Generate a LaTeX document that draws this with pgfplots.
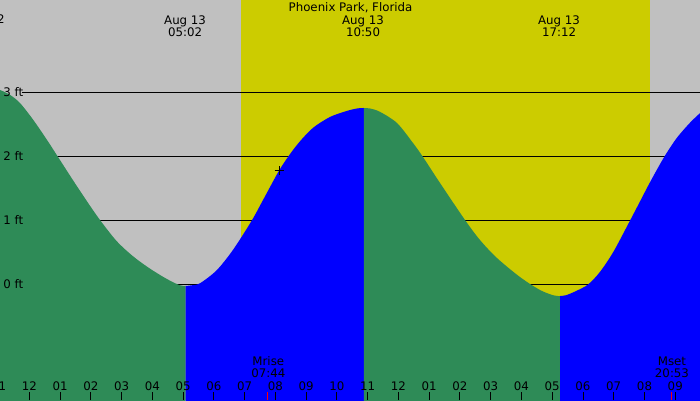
\documentclass[border=0pt]{standalone}
\usepackage{pgfplots}
\pgfplotsset{compat=1.18}
\usepackage{fontspec}
\setmainfont{DejaVu Sans}
\definecolor{bggray}{HTML}{C0C0C0}
\definecolor{sunyel}{HTML}{CCCC00}
\definecolor{tgreen}{HTML}{2E8B57}
\definecolor{tblue}{HTML}{0000FF}
\newcommand\tf{\fontsize{5.9}{6}\selectfont}
\begin{document}
\begin{tikzpicture}
\begin{axis}[
  width=350pt, height=200pt, scale only axis,
  xmin=-0.959, xmax=21.805, ymin=-1.8125, ymax=4.4375,
  axis on top,
  axis line style={draw=none},
  axis background/.style={fill=bggray},
  ytick=\empty,
  xtick={-1,0,...,21},
  xticklabels={11,12,01,02,03,04,05,06,07,08,09,10,11,12,01,02,03,04,05,06,07,08,09},
  xtick pos=bottom,
  tick align=inside,
  major tick length=4pt,
  xtick style={black, line width=0.5pt},
  xticklabel style={anchor=base, yshift=5pt, font=\tf},
  /pgf/number format/assume math mode=true,
  extra x ticks={0},
  extra x tick labels={},
  extra x tick style={major tick style={black, line width=1.5pt}},
  clip=true,
]
% daylight band
\fill[sunyel] (axis cs:6.878,-1.8125) rectangle (axis cs:20.179,4.4375);
% height lines
\draw[black, line width=0.5pt] (axis cs:-0.244,3) -- (axis cs:21.9,3);
\draw[black, line width=0.5pt] (axis cs:-0.244,2) -- (axis cs:21.9,2);
\draw[black, line width=0.5pt] (axis cs:-0.244,1) -- (axis cs:21.9,1);
\draw[black, line width=0.5pt] (axis cs:-0.244,0) -- (axis cs:21.9,0);
% falling tide 1
\addplot[fill=tgreen, draw=none, smooth] coordinates {
 (-1.2,3.05) (-0.959,3.031) (-0.634,2.955) (-0.309,2.828) (0.114,2.570) (0.569,2.252)
 (0.894,2.010) (1.415,1.622) (1.870,1.292) (2.293,1.000) (2.836,0.670)
 (3.376,0.430) (3.919,0.240) (4.462,0.080) (4.88,-0.018) (5.08,-0.03)
} -- (axis cs:5.08,-3) -- (axis cs:-1.2,-3) -- cycle;
% rising tide 1
\addplot[fill=tblue, draw=none, smooth] coordinates {
 (5.08,-0.03) (5.28,-0.02) (5.545,0.012) (6.088,0.215) (6.628,0.54) (7.226,0.99)
 (7.603,1.32) (8.114,1.77) (8.472,2.03) (8.797,2.23) (9.220,2.44)
 (9.772,2.61) (10.325,2.705) (10.68,2.745) (10.878,2.75)
} -- (axis cs:10.878,-3) -- (axis cs:5.08,-3) -- cycle;
% falling tide 2
\addplot[fill=tgreen, draw=none, smooth] coordinates {
 (10.878,2.75) (11.08,2.742) (11.398,2.69) (11.951,2.516) (12.472,2.203) (12.797,1.984)
 (13.350,1.578) (14.163,1.0) (14.650,0.6875) (15.203,0.406) (15.951,0.109)
 (16.602,-0.094) (17.05,-0.178) (17.252,-0.1875)
} -- (axis cs:17.252,-3) -- (axis cs:10.878,-3) -- cycle;
% rising tide 2
\addplot[fill=tblue, draw=none, smooth] coordinates {
 (17.252,-0.1875) (17.45,-0.175) (17.795,-0.105) (18.172,-0.005) (18.553,0.19) (18.985,0.50)
 (19.528,0.99) (19.854,1.29) (20.179,1.59) (20.634,1.98) (21.047,2.28)
 (21.480,2.52) (21.805,2.67) (22.0,2.75)
} -- (axis cs:22.0,-3) -- (axis cs:17.252,-3) -- cycle;
% current time marker
\addplot[only marks, mark=+, mark size=2.25pt, black, line width=0.5pt] coordinates {(8.114,1.77)};
% moon ticks
\draw[red, line width=0.5pt] (axis cs:7.733,-1.8125) -- (axis cs:7.733,-1.6875);
\draw[red, line width=0.5pt] (axis cs:20.883,-1.8125) -- (axis cs:20.883,-1.6875);
% labels
\node[anchor=base, inner sep=0, font=\tf] at (axis cs:-1,-1.656) {11};
\node[anchor=west, inner sep=0, font=\tf] at (axis cs:-0.862,3) {3 ft};
\node[anchor=west, inner sep=0, font=\tf] at (axis cs:-0.862,2) {2 ft};
\node[anchor=west, inner sep=0, font=\tf] at (axis cs:-0.862,1) {1 ft};
\node[anchor=west, inner sep=0, font=\tf] at (axis cs:-0.862,0) {0 ft};
\node[inner sep=0, font=\tf] at (axis cs:10.44,4.3125) {Phoenix Park, Florida};
\node[anchor=east, inner sep=0, font=\tf] at (axis cs:-0.797,4.125) {Aug 12};
\node[align=center, inner sep=0, font=\tf] at (axis cs:5.06,4.031) {Aug 13\\05:02};
\node[align=center, inner sep=0, font=\tf] at (axis cs:10.846,4.031) {Aug 13\\10:50};
\node[align=center, inner sep=0, font=\tf] at (axis cs:17.22,4.031) {Aug 13\\17:12};
\node[align=center, inner sep=0, font=\tf] at (axis cs:7.766,-1.297) {Mrise\\07:44};
\node[align=center, inner sep=0, font=\tf] at (axis cs:20.894,-1.297) {Mset\\20:53};
\end{axis}
\pgfresetboundingbox
\useasboundingbox (current axis.south west) rectangle (current axis.north east);
\end{tikzpicture}
\end{document}
